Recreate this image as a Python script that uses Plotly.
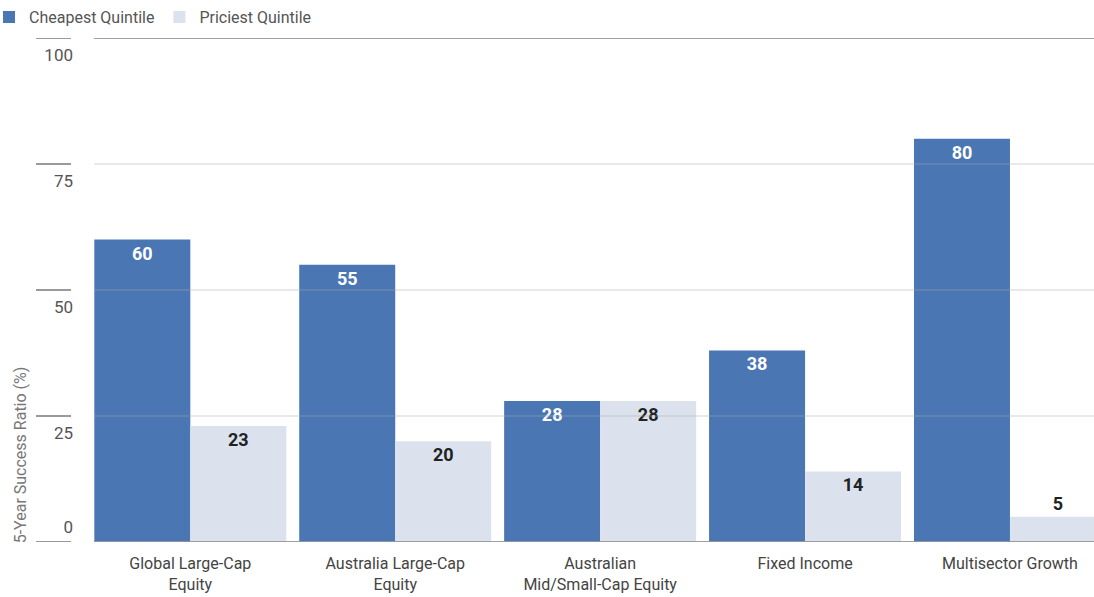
import plotly.graph_objects as go

# Data
categories = [
    "Global Large-Cap<br>Equity",
    "Australia Large-Cap<br>Equity",
    "Australian<br>Mid/Small-Cap Equity",
    "Fixed Income",
    "Multisector Growth",
]
cheapest = [60, 55, 28, 38, 80]
priciest = [23, 20, 28, 14, 5]
y_ticks = [25, 50, 75, 100]
y_axis_title = "5-Year Success Ratio (%)"

DARK = "#4a76b4"
LIGHT = "#dbe2ee"
FONT = "Roboto, sans-serif"

fig = go.Figure()
fig.add_trace(go.Bar(
    name="Cheapest Quintile", x=categories, y=cheapest,
    marker=dict(color=DARK, line=dict(width=0)),
    text=[str(v) for v in cheapest], textposition="inside",
    insidetextanchor="end", constraintext="none",
    textfont=dict(family=FONT, size=18, color="white", weight="bold"),
    hoverinfo="skip",
))
fig.add_trace(go.Bar(
    name="Priciest Quintile", x=categories, y=priciest,
    marker=dict(color=LIGHT, line=dict(width=0)),
    text=[str(v) for v in priciest],
    textposition=["inside" if v >= 10 else "outside" for v in priciest],
    insidetextanchor="end", constraintext="none", cliponaxis=False,
    textfont=dict(family=FONT, size=18, color="#222222", weight="bold"),
    hoverinfo="skip",
))

# Horizontal guide lines drawn over the bars, plus short tick marks left of the labels
shapes = []
for v in [0] + y_ticks:
    strong = v in (0, 100)
    shapes.append(dict(
        type="line", xref="paper", yref="y", x0=0, x1=1, y0=v, y1=v,
        layer="above",
        line=dict(color="rgba(150,150,150,0.9)" if strong else "rgba(170,170,170,0.35)",
                  width=2 if strong else 1.5),
    ))
    shapes.append(dict(
        type="line", xref="paper", yref="y", x0=-0.058, x1=-0.023, y0=v, y1=v,
        line=dict(color="#9a9a9a", width=2),
    ))

fig.update_layout(
    width=1094, height=597,
    margin=dict(l=94, r=0, t=38, b=55, autoexpand=False),
    paper_bgcolor="white", plot_bgcolor="white",
    barmode="group", bargap=0.063, bargroupgap=0,
    font=dict(family=FONT, color="#555555", size=16),
    showlegend=True,
    legend=dict(
        orientation="h", xref="paper", yref="paper",
        x=-0.105, y=1.075, xanchor="left", yanchor="top",
        font=dict(size=16, color="#555555"),
        itemwidth=30, tracegroupgap=0,
    ),
    xaxis=dict(
        range=[-0.47, 4.41], showgrid=False, showline=False, zeroline=False,
        ticks="", ticklabelstandoff=10, tickfont=dict(size=16, color="#444444"),
    ),
    yaxis=dict(
        range=[0, 100], tickvals=y_ticks, showgrid=False, zeroline=False,
        showline=False, ticks="", ticklabelstandoff=20, ticklabelshift=17,
        tickfont=dict(size=17, color="#555555"),
    ),
    yaxis2=dict(
        range=[0, 100], overlaying="y", side="left", tickvals=[0],
        showgrid=False, zeroline=False, showline=False, ticks="",
        ticklabelstandoff=20, ticklabelshift=-15,
        tickfont=dict(size=17, color="#555555"),
    ),
    shapes=shapes,
    annotations=[dict(
        text=y_axis_title, textangle=-90, xref="paper", yref="paper",
        x=-0.074, y=0.172, xanchor="center", yanchor="middle", showarrow=False,
        font=dict(size=16, color="#777777"),
    )],
)

# Invisible trace so the secondary axis (label for 0) is rendered
fig.add_trace(go.Scatter(x=[categories[0]], y=[0], yaxis="y2", mode="markers",
                         marker=dict(opacity=0), showlegend=False, hoverinfo="skip"))

fig.write_html("out.html")
